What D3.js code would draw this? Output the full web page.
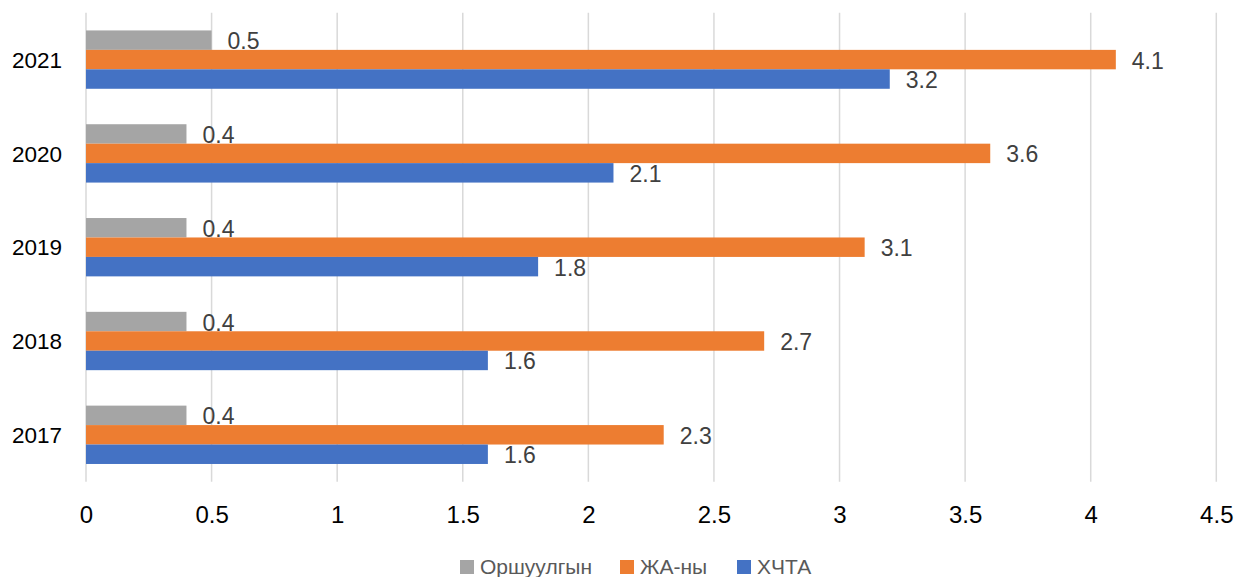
<!DOCTYPE html>
<html><head><meta charset="utf-8">
<script src="https://cdn.jsdelivr.net/npm/d3@7"></script>
<style>body{margin:0;background:#fff}svg{display:block}text{font-family:"Liberation Sans",Arial,sans-serif}</style>
</head><body><svg id="c" width="1240" height="577"></svg>
<script>
const categories = ["2021","2020","2019","2018","2017"];
const seriesNames = ["Оршуулгын","ЖА-ны","ХЧТА"];
const orshuulgyn = [0.5,0.4,0.4,0.4,0.4];
const jaNy = [4.1,3.6,3.1,2.7,2.3];
const hchta = [3.2,2.1,1.8,1.6,1.6];
const xTicks = [0,0.5,1,1.5,2,2.5,3,3.5,4,4.5];
const colors = ["#A5A5A5","#ED7D31","#4472C4"];
const seriesValues = [orshuulgyn, jaNy, hchta];

const svg = d3.select("#c");
const x = d3.scaleLinear().domain([0,4.5]).range([86,1216.3]);
const y = d3.scaleBand().domain(categories).range([12.7,481.7]).paddingInner(0.378).paddingOuter(0.189);
const inner = d3.scaleBand().domain(d3.range(3)).range([0,y.bandwidth()]);

// gridlines
svg.append("g").selectAll("line").data(xTicks).join("line")
  .attr("x1",d=>x(d)).attr("x2",d=>x(d)).attr("y1",12.7).attr("y2",481.7)
  .attr("stroke","#D9D9D9").attr("stroke-width",1.5);

// x tick labels
const xAxis = d3.axisBottom(x).tickValues(xTicks).tickSize(0).tickPadding(0).tickFormat(d=>String(d));
const gx = svg.append("g").attr("transform","translate(0,507)").call(xAxis);
gx.select(".domain").remove();
gx.selectAll("text").attr("font-size",24).attr("fill","#000").attr("dy","0.68em")
  .style("font-family",'"Liberation Sans",Arial,sans-serif');

// y category labels
const yAxis = d3.axisLeft(y).tickSize(0).tickPadding(0);
const gy = svg.append("g").attr("transform","translate(62,0)").call(yAxis);
gy.select(".domain").remove();
gy.selectAll("text").attr("font-size",22.5).attr("fill","#000").attr("dy","0.36em")
  .style("font-family",'"Liberation Sans",Arial,sans-serif');

// data
const rows = [];
seriesValues.forEach((vals,si)=>vals.forEach((v,ci)=>rows.push({si,cat:categories[ci],v})));

// labels first (bars of next series may cover them, as in reference)
svg.append("g").selectAll("text").data(rows).join("text")
  .attr("x",d=>x(d.v)+16)
  .attr("y",d=>y(d.cat)+inner(d.si)+inner.bandwidth()/2)
  .attr("dy","0.39em")
  .attr("font-size",23).attr("fill","#404040")
  .text(d=>String(d.v));

svg.append("g").selectAll("rect").data(rows).join("rect")
  .attr("x",x(0))
  .attr("y",d=>y(d.cat)+inner(d.si))
  .attr("width",d=>x(d.v)-x(0))
  .attr("height",inner.bandwidth())
  .attr("fill",d=>colors[d.si]);

// legend
const legendX = [460,620,737];
const lg = svg.append("g");
seriesNames.forEach((n,i)=>{
  lg.append("rect").attr("x",legendX[i]).attr("y",560).attr("width",14).attr("height",14).attr("fill",colors[i]);
  lg.append("text").attr("x",legendX[i]+20).attr("y",573.5).attr("font-size",21).attr("fill","#595959").text(n);
});
</script></body></html>
